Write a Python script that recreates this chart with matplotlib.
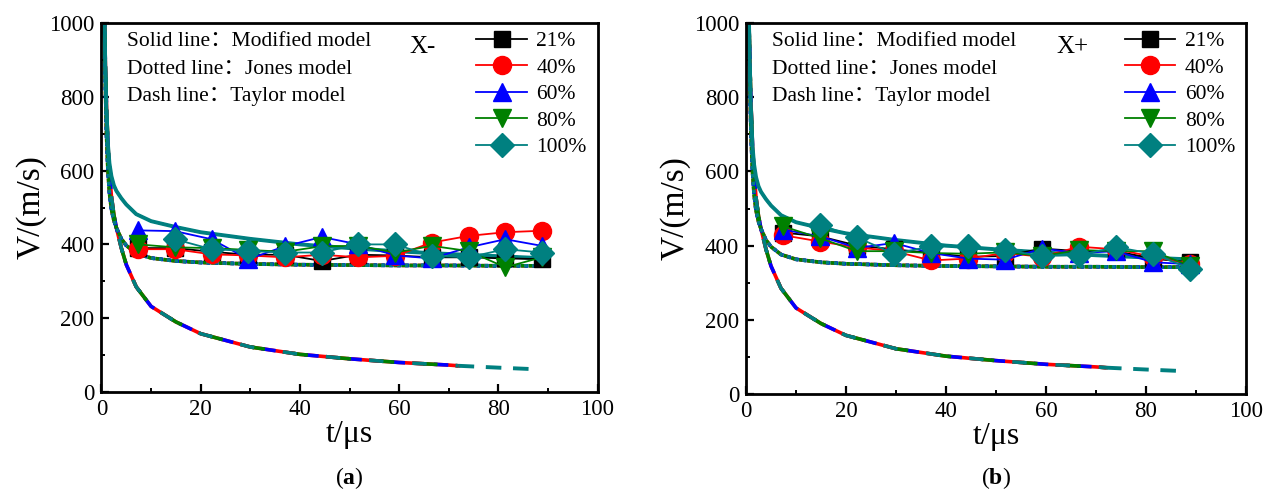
import numpy as np
import matplotlib
matplotlib.use('Agg')
import matplotlib.pyplot as plt

plt.rcParams['font.family'] = ['Liberation Serif', 'Noto Sans CJK SC']
plt.rcParams['mathtext.fontset'] = 'custom'
plt.rcParams['mathtext.rm'] = 'Liberation Serif'
plt.rcParams['mathtext.bf'] = 'Liberation Serif:bold'

# measured points (time in us)
t_exp = [7.4, 14.8, 22.2, 29.6, 37.0, 44.4, 51.8, 59.2, 66.6, 74.0, 81.4, 88.8]
labels = ['21%', '40%', '60%', '80%', '100%']
colors = ['black', 'red', 'blue', 'green', 'teal']
markers = ['s', 'o', '^', 'v', 'D']
msizes = [11, 13, 13, 13, 12]

# panel (a) X-
a_21 = [390, 390, 380, 372, 372, 355, 372, 370, 365, 365, 362, 360]
a_40 = [387, 387, 373, 370, 365, 372, 365, 369, 405, 423, 433, 437]
a_60 = [438, 436, 414, 360, 395, 420, 400, 370, 362, 392, 414, 396]
a_80 = [400, 392, 390, 385, 380, 395, 396, 378, 396, 382, 338, 365]
a_100 = [None, 414, 387, 382, 378, 378, 400, 400, 369, 365, 387, 378]

# panel (b) X+
b_21 = [435, 425, 400, 390, 380, 370, 372, 392, 385, 385, 365, 355]
b_40 = [428, 411, 395, 385, 360, 365, 380, 370, 397, 390, 370, 350]
b_60 = [443, 425, 394, 407, 380, 365, 362, 392, 380, 385, 355, 350]
b_80 = [452, 420, 385, 385, 380, 378, 382, 372, 388, 385, 385, 345]
b_100 = [None, 456, 422, 378, 398, 398, 388, 372, 374, 396, 378, 338]

# model curves
t_mod = [0.6, 0.8, 1.0, 1.3, 1.6, 2.0, 2.5, 3, 4, 5, 7, 10, 15, 20, 30, 40, 50, 60, 70, 80, 90]
v_modified = [1000, 860, 760, 670, 620, 585, 560, 545, 525, 508, 482, 463, 447, 433, 415, 400, 390, 381, 374, 368, 362]
v_jones = [1000, 820, 700, 600, 540, 495, 465, 445, 415, 397, 376, 363, 355, 351, 347, 345, 344, 343, 343, 342, 342]
t_taylor = [0.6, 0.8, 1.0, 1.3, 1.6, 2.0, 2.5, 3, 4, 5, 7, 10, 15, 20, 30, 40, 50, 60, 70, 72]
v_taylor = [1000, 880, 780, 670, 600, 530, 480, 445, 390, 345, 285, 232, 190, 158, 122, 102, 90, 80, 73, 71]
t_taylor_tail = [72, 80, 87]
v_taylor_tail = [71, 66, 62]

panels = [
    ('X-', 'a', [a_21, a_40, a_60, a_80, a_100]),
    ('X+', 'b', [b_21, b_40, b_60, b_80, b_100]),
]

fig = plt.figure(figsize=(12.73, 4.95), dpi=100)
boxes = [[101.5 / 1273, 103 / 495, 496 / 1273, 369 / 495],
         [746 / 1273, 101 / 495, 500 / 1273, 371 / 495]]

for (tag, sub, series), box in zip(panels, boxes):
    ax = fig.add_axes(box)

    # model curves for every series (they overlap)
    offs = [0, 3, 6, 9, 0]
    for c, o in zip(colors, offs):
        lw = 2.8 if c == 'teal' else 1.6
        ax.plot(t_mod, v_modified, '-', color=c, lw=lw, zorder=2)
        ax.plot(t_mod, v_jones, color=c, lw=2.6, ls=(o % 4, (1, 1.2)), zorder=2)
        ax.plot(t_taylor, v_taylor, color=c, lw=2.6,
                ls=(o, (4, 8)) if c != 'red' else '-', zorder=2)
    ax.plot(t_taylor_tail, v_taylor_tail, color='teal', lw=2.8, ls=(0, (4, 3)), zorder=2)

    for vals, c, m, ms, lab in zip(series, colors, markers, msizes, labels):
        tt = [t for t, v in zip(t_exp, vals) if v is not None]
        vv = [v for v in vals if v is not None]
        ax.plot(tt, vv, color=c, marker=m, ms=ms, lw=1.3, label=lab, zorder=3)

    ax.set_xlim(0, 100)
    ax.set_ylim(0, 1000)
    ax.set_xticks(range(0, 101, 20))
    ax.set_yticks(range(0, 1001, 200))
    ax.set_xticks(range(10, 100, 20), minor=True)
    ax.set_yticks(range(100, 1000, 200), minor=True)
    ax.tick_params(direction='in', labelsize=16.5, width=1.6, length=6, pad=5)
    ax.tick_params(which='minor', direction='in', width=1.4, length=3)
    for s in ax.spines.values():
        s.set_linewidth(2)
    ax.set_xlabel('t/μs', fontsize=23, labelpad=0)
    ax.set_ylabel('V/(m/s)', fontsize=24, labelpad=2)

    ax.text(0.052, 0.936, 'Solid line：Modified model', transform=ax.transAxes,
            fontsize=15.5, va='baseline')
    ax.text(0.052, 0.862, 'Dotted line：Jones model', transform=ax.transAxes,
            fontsize=15.5, va='baseline')
    ax.text(0.052, 0.789, 'Dash line：Taylor model', transform=ax.transAxes,
            fontsize=15.5, va='baseline')
    ax.text(0.62, 0.919, tag, transform=ax.transAxes, fontsize=18, va='baseline')

    ax.legend(loc='upper right', frameon=False, fontsize=15.5, handlelength=2.33,
              labelspacing=0.3, borderaxespad=0.15, handletextpad=0.45,
              bbox_to_anchor=(1.002, 1.01))

    fig.text(box[0] + box[2] / 2, 0.035, r'($\mathbf{%s}$)' % sub,
             ha='center', va='center', fontsize=17)

fig.savefig('out.png', dpi=100, facecolor='white')
